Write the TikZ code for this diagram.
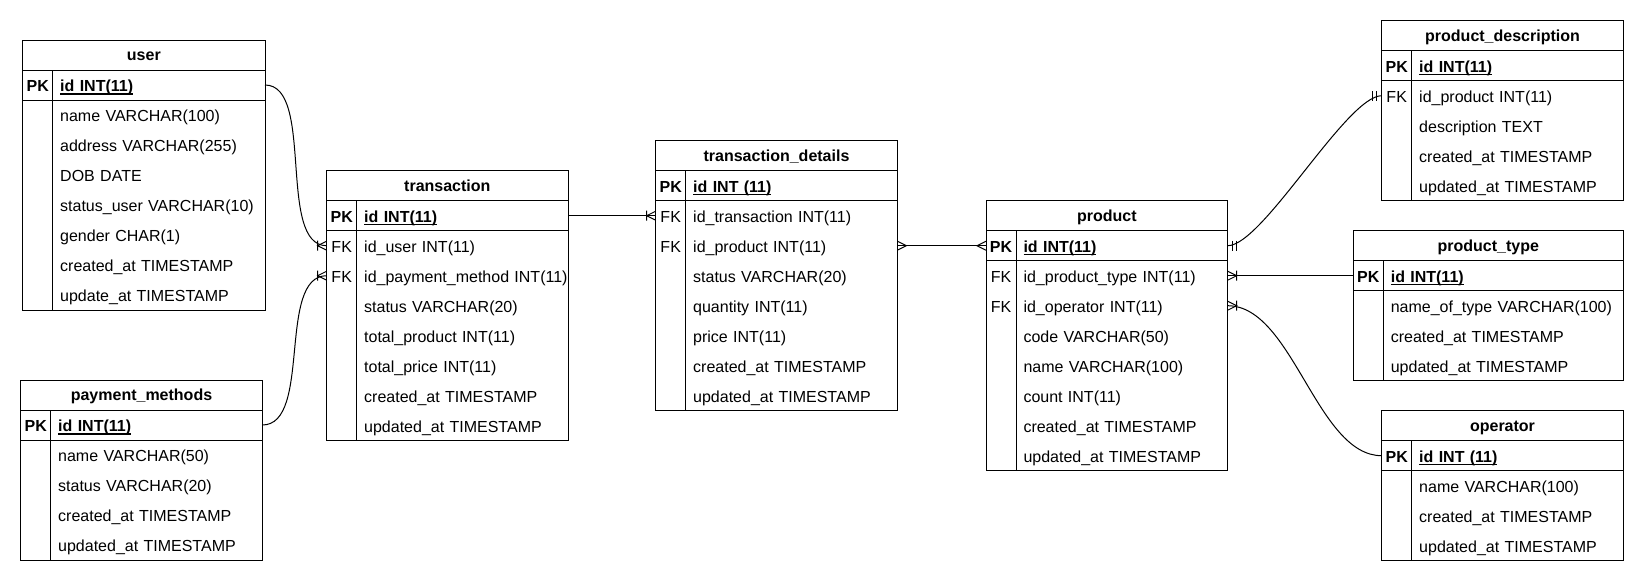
\documentclass[tikz,border=0pt]{standalone}
\usepackage{fontspec}
\setmainfont{Liberation Sans}
\usetikzlibrary{positioning}

\newcommand\pkline[1]{\setbox0=\hbox{#1}\rlap{\rule[-2.8pt]{\wd0}{1.1pt}}\box0}

\tikzset{
  tabtitle/.style={minimum height=30pt, inner sep=0pt, outer sep=0pt, font=\bfseries, text height=11.2pt, text depth=0pt},
  field/.style={minimum height=30pt, inner xsep=7.5pt, inner ysep=0pt, outer sep=0pt, align=left, text height=13.6pt, text depth=0.2pt},
  keycell/.style={minimum width=30pt, minimum height=30pt, inner sep=0pt, outer sep=0pt, text height=13.6pt, text depth=0.2pt},
  crowfoot/.pic={\draw (0,-4.5) -- (9,0) -- (0,4.5);},
  crowbar/.pic={\draw (0,-4.5) -- (9,0) -- (0,4.5) (9,-5) -- (9,5);},
  twobars/.pic={\draw (5,-5) -- (5,5) (9,-5) -- (9,5);},
}

\begin{document}
\begin{tikzpicture}[x=1pt, y=-1pt, line width=1pt]
  \fontsize{16pt}{19pt}\selectfont
  \useasboundingbox[fill=white] (0,0) rectangle (1644,582);

  \foreach \n/\x/\y/\w/\m/\tname/\pk/\rows in {
    u/22.7/40/242.3/8/user/id INT(11)/{name VARCHAR(100), address VARCHAR(255), DOB DATE, status\_user VARCHAR(10), gender CHAR(1), created\_at TIMESTAMP, update\_at TIMESTAMP},
    pm/20.7/380/241.6/5/payment\_methods/id INT(11)/{name VARCHAR(50), status VARCHAR(20), created\_at TIMESTAMP, updated\_at TIMESTAMP},
    t/326.7/170.7/241.3/8/transaction/id INT(11)/{id\_user INT(11), \mbox{id\_payment\_method INT(11)}, status VARCHAR(20), total\_product INT(11), total\_price INT(11), created\_at TIMESTAMP, updated\_at TIMESTAMP},
    td/655.7/140.7/241.6/8/transaction\_details/id INT (11)/{id\_transaction INT(11), id\_product INT(11), status VARCHAR(20), quantity INT(11), price INT(11), created\_at TIMESTAMP, updated\_at TIMESTAMP},
    p/986/200.7/241.7/8/product/id INT(11)/{id\_product\_type INT(11), id\_operator INT(11), code VARCHAR(50), name VARCHAR(100), count INT(11), created\_at TIMESTAMP, updated\_at TIMESTAMP},
    pd/1381.7/20.7/241.6/5/product\_description/id INT(11)/{id\_product INT(11), description TEXT, created\_at TIMESTAMP, updated\_at TIMESTAMP},
    pt/1353.3/230.7/270/4/product\_type/id INT(11)/{name\_of\_type VARCHAR(100), created\_at TIMESTAMP, updated\_at TIMESTAMP},
    op/1381.7/410.7/241.6/4/operator/id INT (11)/{name VARCHAR(100), created\_at TIMESTAMP, updated\_at TIMESTAMP}%
  }{
    \pgfmathsetmacro\fw{\w-45}
    \node[tabtitle, minimum width=\w pt, anchor=north west] (\n0) at (\x,\y) {\tname};
    \node[field, text width=\fw pt, anchor=north east, font=\bfseries] (\n1) at (\n0.south east) {\pkline{\pk}};
    \node[keycell, font=\bfseries, left=0pt of \n1] (\n k1) {PK};
    \foreach \f [count=\i from 2] in \rows {
      \pgfmathtruncatemacro\j{\i-1}
      \node[field, text width=\fw pt, below=0pt of \n\j] (\n\i) {\f};
    }
    \draw (\n0.north west) rectangle (\n\m.south east)
      (\n0.south west) -- (\n0.south east)
      (\n k1.south west) -- (\n1.south east)
      (\n1.north west) -- (\n\m.south west);
  }

  \foreach \n/\i in {t/2, t/3, td/2, td/3, p/2, p/3, pd/2}
    \node[keycell, left=0pt of \n\i] (\n k\i) {FK};

  \draw (u1.east) .. controls +(50,0) and +(-50,0) .. (tk2.west);
  \draw (pm1.east) .. controls +(50,0) and +(-50,0) .. (tk3.west);
  \draw (t1.east) -- (tdk2.west);
  \draw (td3.east) -- (pk1.west);
  \draw (p1.east) .. controls +(35,0) and +(-35,0) .. (pdk2.west);
  \draw (p2.east) -- (ptk1.west);
  \draw (p3.east) .. controls +(65,0) and +(-65,0) .. (opk1.west);

  \pic[rotate=180] at (tk2.west) {crowbar};
  \pic[rotate=180] at (tk3.west) {crowbar};
  \pic[rotate=180] at (tdk2.west) {crowbar};
  \pic at (td3.east) {crowfoot};
  \pic[rotate=180] at (pk1.west) {crowfoot};
  \pic at (p1.east) {twobars};
  \pic[rotate=180] at (pdk2.west) {twobars};
  \pic at (p2.east) {crowbar};
  \pic at (p3.east) {crowbar};
\end{tikzpicture}
\end{document}
